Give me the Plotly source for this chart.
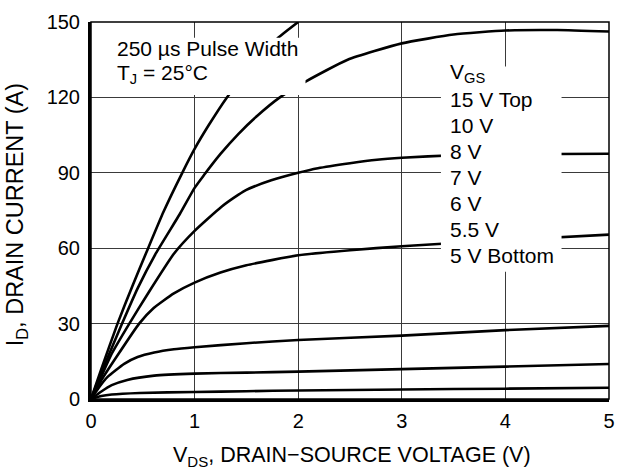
import plotly.graph_objects as go

# ---- data ----
vgs_labels = ["15 V", "10 V", "8 V", "7 V", "6 V", "5.5 V", "5 V"]

vds_15 = [0, 0.1, 0.256, 0.4, 0.531, 0.7, 0.881, 1.0, 1.137, 1.312, 1.5, 1.65, 1.8, 2.0]
id_15 = [0, 12, 30, 45, 58, 74.5, 90, 99.5, 109, 120, 130, 137, 143.5, 150]

vds_10 = [0, 0.1, 0.3, 0.45, 0.627, 0.856, 1.0, 1.089, 1.25, 1.424, 1.6, 1.823, 2.08, 2.477, 3.0, 3.5, 4.0, 4.5, 5.0]
id_10 = [0, 10.5, 30, 44, 58, 73.5, 84, 89, 97.5, 105.5, 112.5, 120, 126.5, 135, 141.5, 145, 146.6, 146.8, 146.2]

vds_8 = [0, 0.1, 0.2, 0.37, 0.55, 0.802, 1.0, 1.26, 1.424, 1.5, 1.74, 2.0, 2.19, 2.5, 2.76, 3.0, 3.5, 4.0, 4.5, 5.0]
id_8 = [0, 9, 18, 30, 42, 57.9, 66.9, 76.5, 81.3, 83.2, 87, 90, 91.8, 93.8, 95.2, 96, 97, 97.3, 97.5, 97.6]

vds_7 = [0, 0.1, 0.25, 0.465, 0.6, 0.8, 1.0, 1.25, 1.5, 2.0, 2.5, 3.0, 4.0, 5.0]
id_7 = [0, 7.5, 17, 30, 36, 42, 46.3, 50.3, 53.2, 57.2, 59.2, 60.8, 63.2, 65.4]

vds_6 = [0, 0.08, 0.16, 0.32, 0.45, 0.61, 0.8, 1.0, 1.5, 2.0, 3.0, 4.0, 5.0]
id_6 = [0, 4.8, 8.8, 14, 16.7, 18.5, 19.8, 20.6, 22.2, 23.5, 25.2, 27.4, 29.1]

vds_55 = [0, 0.1, 0.2, 0.35, 0.61, 1.0, 1.5, 2.0, 3.0, 4.0, 5.0]
id_55 = [0, 3, 5.5, 7.6, 9.3, 10.1, 10.5, 10.9, 11.9, 12.9, 13.9]

vds_5 = [0, 0.1, 0.2, 0.47, 1.0, 1.5, 2.0, 3.0, 4.0, 5.0]
id_5 = [0, 1.2, 1.8, 2.4, 2.8, 3.1, 3.4, 3.8, 4.1, 4.5]

x_ticks = [0, 1, 2, 3, 4, 5]
y_ticks = [0, 30, 60, 90, 120, 150]

legend_lines = ["V<sub>GS</sub>", "15 V Top", "10 V", "8 V", "7 V", "6 V", "5.5 V", "5 V Bottom"]
note_lines = ["250 \u00b5s Pulse Width", "T<sub>J</sub> = 25\u00b0C"]

series = [(vds_15, id_15), (vds_10, id_10), (vds_8, id_8), (vds_7, id_7),
          (vds_6, id_6), (vds_55, id_55), (vds_5, id_5)]

# ---- layout geometry ----
W, H = 626, 472
ML, MR, MT, MB = 91, 11, 17, 73
PW, PH = W - ML - MR, H - MT - MB


def px_x(px):
    return (px - ML) / PW


def px_y(py):
    return (H - MB - py) / PH


FONT = "Liberation Sans, Arial, Helvetica, sans-serif"
TXT = 21

fig = go.Figure()
for (xs, ys), name in zip(series, vgs_labels):
    fig.add_trace(go.Scatter(x=xs, y=ys, mode="lines", name=name,
                             line=dict(color="black", width=2.6, shape="spline", smoothing=0.5),
                             showlegend=False, hoverinfo="skip"))

axis_common = dict(showgrid=True, gridcolor="#3a3a3a", gridwidth=1.3, zeroline=False,
                   showline=True, linecolor="black", linewidth=3, ticks="",
                   tickfont=dict(size=20, color="black", family=FONT))

fig.update_xaxes(range=[0, 5], tickvals=x_ticks, ticklabelstandoff=2, **axis_common)
fig.update_yaxes(range=[0, 150], tickvals=y_ticks, ticklabelstandoff=4, **axis_common)

shapes = [
    dict(type="rect", xref="paper", yref="paper", x0=0, x1=1, y0=0, y1=1,
         line=dict(color="black", width=1.5), layer="above"),
    dict(type="rect", xref="paper", yref="paper", x0=px_x(108), x1=px_x(308),
         y0=px_y(91), y1=px_y(33), fillcolor="white", line=dict(width=0), layer="above"),
    dict(type="rect", xref="paper", yref="paper", x0=px_x(445), x1=px_x(567),
         y0=px_y(270), y1=px_y(62), fillcolor="white", line=dict(width=0), layer="above"),
]

annotations = []
# note block: one annotation per line (cap-centre targets 46.5 and 72.5 px)
for i, line in enumerate(note_lines):
    annotations.append(dict(xref="paper", yref="paper", x=px_x(115), y=px_y(44 + 26 * i),
                            xanchor="left", yanchor="middle", align="left", showarrow=False,
                            text=line, font=dict(size=TXT, color="black", family=FONT)))
# VGS list: one annotation per line, 26.2 px apart
for i, line in enumerate(legend_lines):
    cy = 69 if i == 0 else 96 + 26.2 * (i - 1)
    annotations.append(dict(xref="paper", yref="paper", x=px_x(452), y=px_y(cy),
                            xanchor="left", yanchor="middle", align="left", showarrow=False,
                            text=line, font=dict(size=TXT, color="black", family=FONT)))

annotations += [
    dict(xref="paper", yref="paper", x=px_x(355), y=px_y(457), xanchor="center", yanchor="middle",
         showarrow=False, text="V<sub>DS</sub>, DRAIN\u2212SOURCE VOLTAGE (V)",
         font=dict(size=21.5, color="black", family=FONT)),
    dict(xref="paper", yref="paper", x=px_x(16), y=px_y(212), xanchor="center", yanchor="middle",
         showarrow=False, textangle=-90, text="I<sub>D</sub>, DRAIN CURRENT (A)",
         font=dict(size=23.5, color="black", family=FONT)),
]

fig.update_layout(width=W, height=H, margin=dict(l=ML, r=MR, t=MT, b=MB),
                  paper_bgcolor="white", plot_bgcolor="white",
                  shapes=shapes, annotations=annotations,
                  font=dict(family=FONT, color="black", size=20))

fig.write_html("out.html", config={"displayModeBar": False},
               post_script="document.body.style.margin='0';document.body.style.padding='0';"
                           "document.body.style.overflow='hidden';")
